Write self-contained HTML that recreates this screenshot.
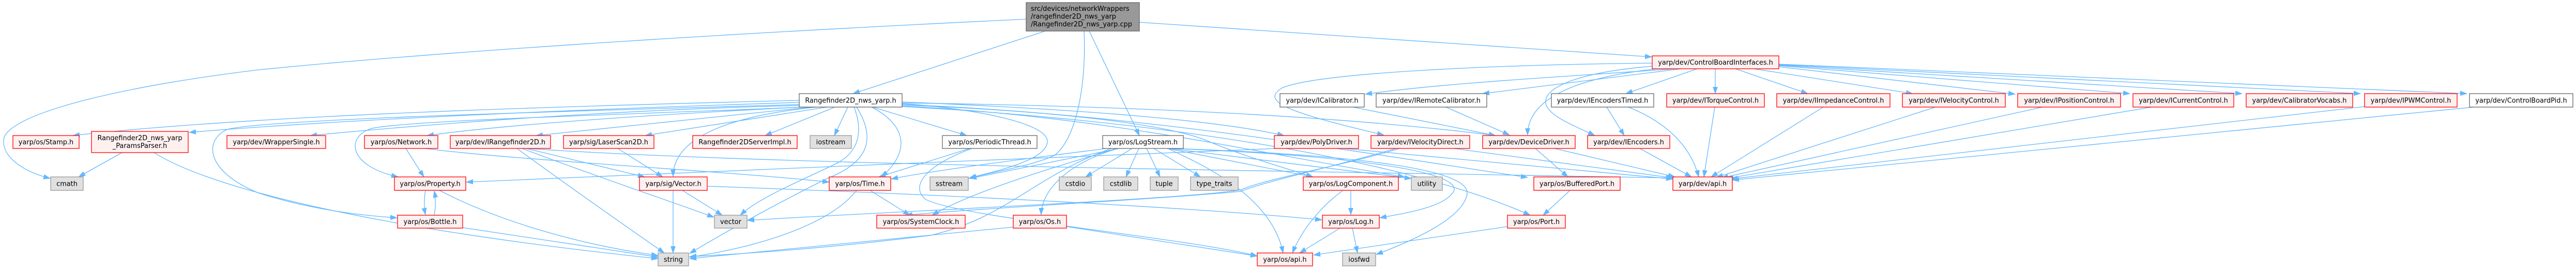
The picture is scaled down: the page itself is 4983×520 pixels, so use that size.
<!DOCTYPE html>
<html><head><meta charset="utf-8"><style>
html,body{margin:0;padding:0;background:#fff;}
body{width:4983px;height:520px;overflow:hidden;}
svg{display:block;}
text{font-family:"DejaVu Sans","Liberation Sans",sans-serif;font-size:12.9px;fill:#000;}
.e{fill:none;stroke:#63b8ff;stroke-width:1.3;marker-end:url(#ah);}
.r{fill:#fff0f0;stroke:#ff0000;stroke-width:1.3;}
.g{fill:#e0e0e0;stroke:#999999;stroke-width:1.3;}
.w{fill:#ffffff;stroke:#666666;stroke-width:1.3;}
.m{fill:#999999;stroke:#666666;stroke-width:1.3;}
</style></head><body>
<svg width="4983" height="520" viewBox="0 0 4983 520" xmlns="http://www.w3.org/2000/svg">
<defs>
<marker id="ah" markerUnits="userSpaceOnUse" markerWidth="14" markerHeight="10" refX="13" refY="5" orient="auto">
<path d="M0,0.5 L13,5 L0,9.5 z" fill="#63b8ff" stroke="#63b8ff" stroke-width="0.8"/>
</marker>
</defs>
<rect x="0" y="0" width="4983" height="520" fill="#fff"/>

<!-- edges: main -->
<path class="e" d="M2022,60 L1650,181"/>
<path class="e" d="M1985,37 C1500,60 900,95 500,135 C250,165 30,215 8,265 C0,300 40,330 97,345"/>
<path class="e" d="M2107,60 L2204,262"/>
<path class="e" d="M2204,43 L3195,110"/>
<path class="e" d="M2097,60 C2102,170 2080,270 2040,300 C2000,320 1920,332 1874,345"/>

<!-- edges: Rangefinder2D_nws_yarp.h -->
<path class="e" d="M1546,194 C1100,205 500,222 141,262"/>
<path class="e" d="M1546,198 C1100,212 650,232 366,256"/>
<path class="e" d="M1546,202 C1100,215 520,230 440,250 C395,270 395,330 500,373 C600,405 700,417 768,421"/>
<path class="e" d="M1546,204 C1200,212 850,238 600,262"/>
<path class="e" d="M1550,207 C1300,220 1000,238 826,262"/>
<path class="e" d="M1555,207 C1200,222 800,232 720,248 C670,262 670,320 770,342"/>
<path class="e" d="M1570,207 L1037,262"/>
<path class="e" d="M1600,207 L1248,262"/>
<path class="e" d="M1615,207 L1480,262"/>
<path class="e" d="M1640,207 L1614,262"/>
<path class="e" d="M1580,207 C1400,225 1302,270 1302,341"/>
<path class="e" d="M1652,207 C1667,245 1667,290 1620,315 C1560,345 1470,380 1432,416"/>
<path class="e" d="M1657,207 C1690,260 1690,310 1600,345 C1500,395 1400,450 1334,490"/>
<path class="e" d="M1686,207 C1750,240 1765,290 1705,342"/>
<path class="e" d="M1688,207 L1870,262"/>
<path class="e" d="M1745,200 C1900,212 2030,240 2026,275 C2022,310 1930,330 1875,344"/>
<path class="e" d="M1745,197 C2100,212 2350,232 2484,262"/>
<path class="e" d="M1745,199 C2200,205 2600,225 2893,262"/>
<path class="e" d="M1745,203 C2050,215 2250,240 2330,270 C2400,300 2470,320 2540,342"/>
<path class="e" d="M1745,205 C2150,225 2450,300 2717,342"/>
<path class="e" d="M1745,202 C2200,220 2600,290 2955,343"/>
<path class="e" d="M1745,206 C2200,230 2700,300 2960,416"/>

<!-- edges: ControlBoardInterfaces.h -->
<path class="e" d="M3240,133 C3000,150 2800,160 2641,182"/>
<path class="e" d="M3252,133 L2868,181"/>
<path class="e" d="M3205,133 C3050,150 2955,190 2955,261"/>
<path class="e" d="M3196,128 C3050,140 2985,170 2990,200 C2995,225 3050,245 3085,262"/>
<path class="e" d="M3196,122 C2900,125 2550,140 2480,170 C2440,195 2480,215 2677,261"/>
<path class="e" d="M3283,133 L3145,181"/>
<path class="e" d="M3318,133 L3318,181"/>
<path class="e" d="M3357,133 L3497,181"/>
<path class="e" d="M3393,133 L3700,181"/>
<path class="e" d="M3441,129 L3898,182"/>
<path class="e" d="M3441,127 L4120,181"/>
<path class="e" d="M3441,126 L4337,181"/>
<path class="e" d="M3441,125 L4566,181"/>
<path class="e" d="M3441,124 L4772,181"/>

<!-- edges: interfaces -> dev/api.h etc -->
<path class="e" d="M3150,207 C3220,235 3270,280 3286,342"/>
<path class="e" d="M3317,207 L3296,342"/>
<path class="e" d="M3527,207 L3310,342"/>
<path class="e" d="M3744,207 L3320,343"/>
<path class="e" d="M3951,207 L3330,344"/>
<path class="e" d="M4162,207 L3340,345"/>
<path class="e" d="M4574,206 L3348,346"/>
<path class="e" d="M4785,207 L3351,348"/>
<path class="e" d="M3172,287 L3272,342"/>
<path class="e" d="M3007,287 L3240,342"/>
<path class="e" d="M2812,287 L3237,344"/>
<path class="e" d="M2600,287 L3236,346"/>
<path class="e" d="M3108,207 L3142,262"/>
<path class="e" d="M2617,207 L2893,262"/>
<path class="e" d="M2797,207 L2920,261"/>
<path class="e" d="M2970,287 L3033,342"/>
<path class="e" d="M2470,287 C2000,305 1300,335 902,352"/>
<path class="e" d="M2707,287 C2600,320 2450,345 2400,367 C2300,385 1700,410 1446,426"/>
<path class="e" d="M2700,287 C2550,330 2450,350 2400,370 C2200,388 1900,402 1752,416"/>
<path class="e" d="M3037,368 L2985,416"/>
<path class="e" d="M2916,438 L2541,493"/>

<!-- edges: LogStream.h -->
<path class="e" d="M2190,287 L2100,342"/>
<path class="e" d="M2203,287 L2178,342"/>
<path class="e" d="M2218,287 L2244,342"/>
<path class="e" d="M2232,287 L2322,342"/>
<path class="e" d="M2165,287 L1876,345"/>
<path class="e" d="M2163,287 C2080,310 2015,360 2014,415"/>
<path class="e" d="M2160,287 C2050,320 1880,370 1803,416"/>
<path class="e" d="M2259,287 C2330,320 2460,380 2482,489"/>
<path class="e" d="M2258,287 L2540,342"/>
<path class="e" d="M2262,287 C2450,310 2600,330 2730,345"/>
<path class="e" d="M2265,287 C2600,300 2830,330 2812,370 C2795,400 2720,412 2669,421"/>
<path class="e" d="M2268,287 C2650,300 2845,330 2838,375 C2830,425 2720,470 2662,492"/>
<path class="e" d="M2140,287 C2000,305 1800,330 1724,346"/>
<path class="e" d="M2150,287 C2000,340 1950,420 1800,455 C1600,480 1450,490 1334,496"/>

<!-- edges: misc -->
<path class="e" d="M1876,287 L1700,342"/>
<path class="e" d="M1880,287 C1790,320 1760,360 1790,385 C1850,420 2300,460 2432,495"/>
<path class="e" d="M1683,368 L1760,416"/>
<path class="e" d="M1657,368 C1600,440 1450,480 1334,497"/>
<path class="e" d="M2063,438 L2432,495"/>
<path class="e" d="M1960,439 L1334,500"/>
<path class="e" d="M1320,368 L1397,416"/>
<path class="e" d="M1302,368 L1302,489"/>
<path class="e" d="M1368,360 C1800,375 2300,400 2557,425"/>
<path class="e" d="M1018,287 L1247,342"/>
<path class="e" d="M1010,287 C1150,340 1300,390 1381,420"/>
<path class="e" d="M1000,287 C1100,360 1200,430 1285,489"/>
<path class="e" d="M1020,287 C1500,320 2500,330 3236,344"/>
<path class="e" d="M1195,287 L1282,342"/>
<path class="e" d="M785,287 L820,342"/>
<path class="e" d="M822,287 C1000,310 1400,330 1604,352"/>
<path class="e" d="M823,368 C820,385 820,400 823,415"/>
<path class="e" d="M840,416 C843,400 843,385 840,369"/>
<path class="e" d="M850,368 C950,420 1100,470 1273,494"/>
<path class="e" d="M895,440 L1273,497"/>
<path class="e" d="M236,295 L152,342"/>
<path class="e" d="M298,295 C400,360 700,440 1273,500"/>
<path class="e" d="M2613,368 L2613,415"/>
<path class="e" d="M2598,368 C2560,395 2520,440 2500,489"/>
<path class="e" d="M2592,441 L2514,489"/>
<path class="e" d="M2616,441 L2626,489"/>

<!-- nodes -->
<rect class="m" x="1985" y="5" width="219" height="55"/>
<text x="1994" y="21">src/devices/networkWrappers</text>
<text x="1994" y="36">/rangefinder2D_nws_yarp</text>
<text x="1994" y="51">/Rangefinder2D_nws_yarp.cpp</text>

<rect class="r" x="3196" y="108" width="245" height="25"/><text x="3318.5" y="125" text-anchor="middle">yarp/dev/ControlBoardInterfaces.h</text>

<rect class="w" x="1546" y="181" width="199" height="26"/><text x="1645.5" y="198.5" text-anchor="middle">Rangefinder2D_nws_yarp.h</text>
<rect class="w" x="2476" y="181" width="163" height="26"/><text x="2557.5" y="198.5" text-anchor="middle">yarp/dev/ICalibrator.h</text>
<rect class="w" x="2662" y="181" width="214" height="26"/><text x="2769" y="198.5" text-anchor="middle">yarp/dev/IRemoteCalibrator.h</text>
<rect class="w" x="3001" y="181" width="198" height="26"/><text x="3100" y="198.5" text-anchor="middle">yarp/dev/IEncodersTimed.h</text>
<rect class="r" x="3224" y="181" width="189" height="26"/><text x="3318.5" y="198.5" text-anchor="middle">yarp/dev/ITorqueControl.h</text>
<rect class="r" x="3437" y="181" width="219" height="26"/><text x="3546.5" y="198.5" text-anchor="middle">yarp/dev/IImpedanceControl.h</text>
<rect class="r" x="3680" y="181" width="199" height="26"/><text x="3779.5" y="198.5" text-anchor="middle">yarp/dev/IVelocityControl.h</text>
<rect class="r" x="3903" y="181" width="199" height="26"/><text x="4002.5" y="198.5" text-anchor="middle">yarp/dev/IPositionControl.h</text>
<rect class="r" x="4126" y="181" width="195" height="26"/><text x="4223.5" y="198.5" text-anchor="middle">yarp/dev/ICurrentControl.h</text>
<rect class="r" x="4345" y="181" width="206" height="26"/><text x="4448" y="198.5" text-anchor="middle">yarp/dev/CalibratorVocabs.h</text>
<rect class="r" x="4574" y="181" width="179" height="26"/><text x="4663.5" y="198.5" text-anchor="middle">yarp/dev/IPWMControl.h</text>
<rect class="w" x="4777" y="181" width="200" height="26"/><text x="4877" y="198.5" text-anchor="middle">yarp/dev/ControlBoardPid.h</text>

<rect class="r" x="25" y="262" width="128" height="25"/><text x="89" y="279" text-anchor="middle">yarp/os/Stamp.h</text>
<rect class="r" x="177" y="254" width="187" height="41"/><text x="270.5" y="271" text-anchor="middle">Rangefinder2D_nws_yarp</text><text x="270.5" y="286" text-anchor="middle">_ParamsParser.h</text>
<rect class="r" x="439" y="262" width="191" height="25"/><text x="534.5" y="279" text-anchor="middle">yarp/dev/WrapperSingle.h</text>
<rect class="r" x="705" y="262" width="142" height="25"/><text x="776" y="279" text-anchor="middle">yarp/os/Network.h</text>
<rect class="r" x="871" y="262" width="194" height="25"/><text x="968" y="279" text-anchor="middle">yarp/dev/IRangefinder2D.h</text>
<rect class="r" x="1090" y="262" width="175" height="25"/><text x="1177.5" y="279" text-anchor="middle">yarp/sig/LaserScan2D.h</text>
<rect class="r" x="1340" y="262" width="202" height="25"/><text x="1441" y="279" text-anchor="middle">Rangefinder2DServerImpl.h</text>
<rect class="g" x="1567" y="262" width="80" height="25"/><text x="1607" y="279" text-anchor="middle">iostream</text>
<rect class="w" x="1823" y="262" width="183" height="25"/><text x="1914.5" y="279" text-anchor="middle">yarp/os/PeriodicThread.h</text>
<rect class="w" x="2133" y="262" width="156" height="25"/><text x="2211" y="279" text-anchor="middle">yarp/os/LogStream.h</text>
<rect class="r" x="2465" y="262" width="163" height="25"/><text x="2546.5" y="279" text-anchor="middle">yarp/dev/PolyDriver.h</text>
<rect class="r" x="2652" y="262" width="191" height="25"/><text x="2747.5" y="279" text-anchor="middle">yarp/dev/IVelocityDirect.h</text>
<rect class="r" x="2868" y="262" width="179" height="25"/><text x="2957.5" y="279" text-anchor="middle">yarp/dev/DeviceDriver.h</text>
<rect class="r" x="3071" y="262" width="159" height="25"/><text x="3150.5" y="279" text-anchor="middle">yarp/dev/IEncoders.h</text>

<rect class="g" x="98" y="342" width="63" height="26"/><text x="129.5" y="359.5" text-anchor="middle">cmath</text>
<rect class="r" x="763" y="342" width="138" height="26"/><text x="832" y="359.5" text-anchor="middle">yarp/os/Property.h</text>
<rect class="r" x="1237" y="342" width="131" height="26"/><text x="1302.5" y="359.5" text-anchor="middle">yarp/sig/Vector.h</text>
<rect class="r" x="1604" y="342" width="119" height="26"/><text x="1663.5" y="359.5" text-anchor="middle">yarp/os/Time.h</text>
<rect class="g" x="1799" y="342" width="74" height="26"/><text x="1836" y="359.5" text-anchor="middle">sstream</text>
<rect class="g" x="2049" y="342" width="62" height="26"/><text x="2080" y="359.5" text-anchor="middle">cstdio</text>
<rect class="g" x="2135" y="342" width="66" height="26"/><text x="2168" y="359.5" text-anchor="middle">cstdlib</text>
<rect class="g" x="2225" y="342" width="54" height="26"/><text x="2252" y="359.5" text-anchor="middle">tuple</text>
<rect class="g" x="2303" y="342" width="92" height="26"/><text x="2349" y="359.5" text-anchor="middle">type_traits</text>
<rect class="r" x="2521" y="342" width="184" height="26"/><text x="2613" y="359.5" text-anchor="middle">yarp/os/LogComponent.h</text>
<rect class="g" x="2730" y="342" width="60" height="26"/><text x="2760" y="359.5" text-anchor="middle">utility</text>
<rect class="r" x="2967" y="342" width="167" height="26"/><text x="3050.5" y="359.5" text-anchor="middle">yarp/os/BufferedPort.h</text>
<rect class="r" x="3236" y="342" width="115" height="26"/><text x="3293.5" y="359.5" text-anchor="middle">yarp/dev/api.h</text>

<rect class="r" x="769" y="416" width="126" height="25"/><text x="832" y="433" text-anchor="middle">yarp/os/Bottle.h</text>
<rect class="g" x="1382" y="416" width="63" height="25"/><text x="1413.5" y="433" text-anchor="middle">vector</text>
<rect class="r" x="1696" y="416" width="171" height="25"/><text x="1781.5" y="433" text-anchor="middle">yarp/os/SystemClock.h</text>
<rect class="r" x="1960" y="416" width="103" height="25"/><text x="2011.5" y="433" text-anchor="middle">yarp/os/Os.h</text>
<rect class="r" x="2558" y="416" width="110" height="25"/><text x="2613" y="433" text-anchor="middle">yarp/os/Log.h</text>
<rect class="r" x="2916" y="416" width="112" height="25"/><text x="2972" y="433" text-anchor="middle">yarp/os/Port.h</text>

<rect class="g" x="1273" y="489" width="59" height="25"/><text x="1302.5" y="506" text-anchor="middle">string</text>
<rect class="r" x="2432" y="489" width="107" height="25"/><text x="2485.5" y="506" text-anchor="middle">yarp/os/api.h</text>
<rect class="g" x="2597" y="489" width="64" height="25"/><text x="2629" y="506" text-anchor="middle">iosfwd</text>
</svg>
</body></html>
